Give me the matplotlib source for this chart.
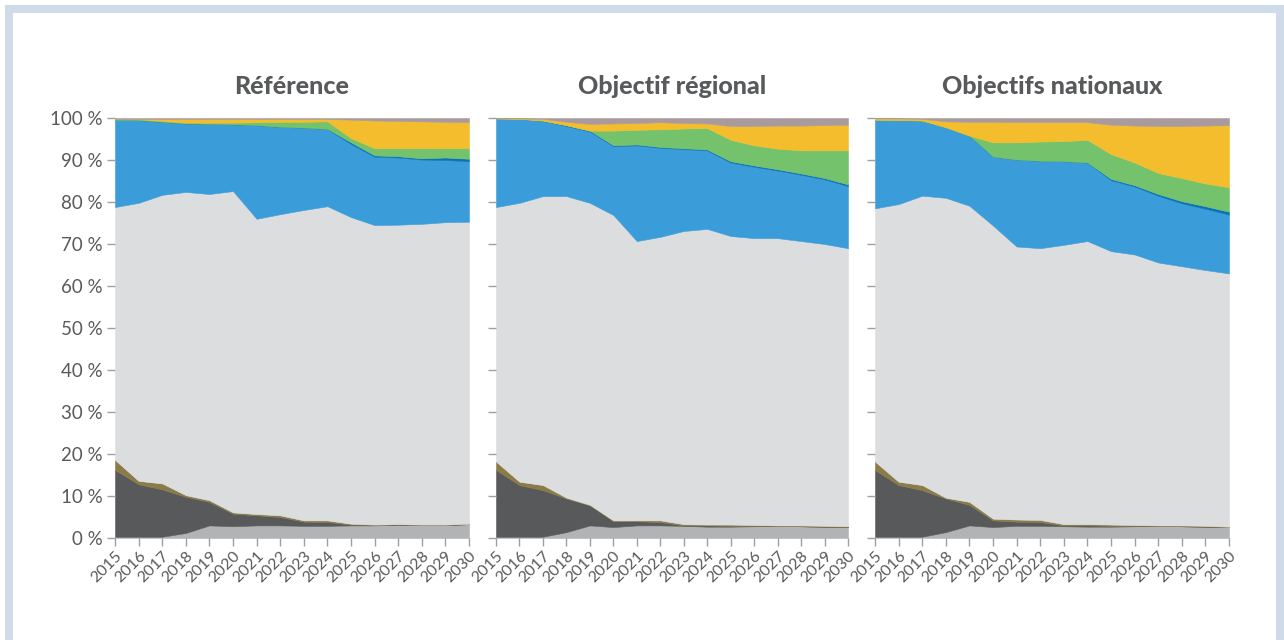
import matplotlib
matplotlib.use("Agg")
import matplotlib.pyplot as plt
from matplotlib.patches import Rectangle

years = list(range(2015, 2031))
titles = ["Référence", "Objectif régional", "Objectifs nationaux"]
y_ticks = [0, 10, 20, 30, 40, 50, 60, 70, 80, 90, 100]
y_tick_labels = [f"{v} %" for v in y_ticks]

# --- Référence (shares in %) ---
ref_gris_bas   = [0.3,0.3,0.3,1.2,3.0,2.8,3.0,3.0,2.9,2.9,3.0,3.0,3.2,3.1,3.1,3.3]
ref_gris_fonce = [15.9,12.5,11.3,8.6,5.6,3.0,2.4,2.0,1.0,0.9,0.2,0.1,0.0,0.0,0.0,0.0]
ref_brun       = [2.4,0.8,1.4,0.4,0.4,0.3,0.3,0.4,0.3,0.4,0.2,0.1,0.1,0.1,0.1,0.1]
ref_gris_clair = [60.2,66.2,68.7,72.2,72.9,76.5,70.3,71.7,73.9,74.8,73.0,71.3,71.3,71.6,72.0,71.9]
ref_bleu       = [20.7,19.7,17.4,16.3,16.7,15.9,22.3,20.8,19.6,18.4,17.4,16.3,16.0,15.3,14.8,14.4]
ref_bleu_fonce = [0,0,0,0,0,0,0,0,0,0,0.4,0.3,0.3,0.3,0.6,0.6]
ref_vert       = [0.3,0.2,0.2,0.2,0.3,0.4,0.7,1.2,1.4,1.8,1.0,1.7,1.9,2.4,2.2,2.5]
ref_jaune      = [0.0,0.1,0.5,0.9,0.9,0.9,0.8,0.7,0.7,0.6,4.4,6.6,6.5,6.4,6.3,6.2]
ref_mauve      = [0.2,0.2,0.2,0.2,0.2,0.2,0.2,0.2,0.2,0.2,0.4,0.6,0.7,0.8,0.9,1.0]

# --- Objectif régional ---
reg_gris_bas   = [0.3,0.3,0.3,1.4,3.0,2.6,3.0,3.0,2.9,2.7,2.7,2.8,2.9,2.8,2.7,2.6]
reg_gris_fonce = [15.9,12.3,11.1,8.0,4.8,1.4,1.0,0.8,0.1,0.3,0.2,0.1,0.0,0.0,0.0,0.0]
reg_brun       = [2.0,0.8,1.2,0.2,0.1,0.2,0.2,0.4,0.3,0.2,0.3,0.2,0.1,0.2,0.2,0.2]
reg_gris_clair = [60.6,66.4,68.8,71.8,71.9,72.7,66.5,67.5,69.8,70.4,68.7,68.3,68.4,67.7,67.1,66.2]
reg_bleu       = [21.1,20.0,18.0,16.7,17.0,16.4,22.8,21.2,19.5,18.7,17.5,17.0,16.1,15.8,15.4,14.8]
reg_bleu_fonce = [0,0,0,0.2,0.2,0.2,0.2,0.2,0.2,0.2,0.3,0.3,0.3,0.3,0.3,0.4]
reg_vert       = [0,0,0,0,0,3.5,3.5,4.2,4.7,5.1,5.1,4.8,4.9,5.5,6.6,8.1]
reg_jaune      = [0,0.1,0.4,0.8,1.6,1.7,1.6,1.7,1.3,1.1,3.3,4.6,5.5,5.9,6.0,6.1]
reg_mauve      = [0.1,0.1,0.2,0.9,1.4,1.3,1.2,1.0,1.2,1.3,1.9,1.9,1.8,1.8,1.7,1.6]

# --- Objectifs nationaux ---
nat_gris_bas   = [0.3,0.3,0.3,1.4,3.0,2.6,2.9,2.9,2.8,2.7,2.7,2.8,2.9,2.8,2.7,2.6]
nat_gris_fonce = [15.9,12.3,11.1,8.0,4.9,1.6,1.0,0.9,0.2,0.3,0.2,0.1,0.0,0.0,0.0,0.0]
nat_brun       = [2.0,0.8,1.2,0.2,0.7,0.4,0.5,0.5,0.3,0.3,0.3,0.2,0.1,0.2,0.2,0.1]
nat_gris_clair = [60.3,66.1,68.9,71.4,70.5,69.8,65.0,64.7,66.5,67.4,65.1,64.4,62.6,61.7,60.9,60.3]
nat_bleu       = [21.1,20.0,17.9,16.8,16.7,16.4,20.7,20.8,19.9,18.7,16.9,16.2,15.9,15.0,14.6,14.0]
nat_bleu_fonce = [0,0,0,0,0,0,0,0,0,0,0.3,0.3,0.4,0.5,0.6,0.7]
nat_vert       = [0,0,0,0,0,3.4,4.1,4.6,4.8,5.4,5.9,5.4,5.0,5.5,5.4,5.8]
nat_jaune      = [0.3,0.4,0.4,1.4,3.3,4.9,4.8,4.6,4.5,4.2,7.0,8.8,11.2,12.4,13.8,14.8]
nat_mauve      = [0.1,0.1,0.2,0.8,0.9,0.9,1.0,1.0,1.0,1.0,1.6,1.8,1.9,1.9,1.8,1.7]

colors = ["#b1b3b5", "#58595b", "#8b7b47", "#dcdddf", "#3a9dd9",
          "#0b72b5", "#74c26c", "#f3bd2d", "#a99a9d"]

panels = [
    [ref_gris_bas, ref_gris_fonce, ref_brun, ref_gris_clair, ref_bleu,
     ref_bleu_fonce, ref_vert, ref_jaune, ref_mauve],
    [reg_gris_bas, reg_gris_fonce, reg_brun, reg_gris_clair, reg_bleu,
     reg_bleu_fonce, reg_vert, reg_jaune, reg_mauve],
    [nat_gris_bas, nat_gris_fonce, nat_brun, nat_gris_clair, nat_bleu,
     nat_bleu_fonce, nat_vert, nat_jaune, nat_mauve],
]

W, H = 1284, 640
fig = plt.figure(figsize=(W / 100, H / 100), dpi=100)
fig.patch.set_facecolor("white")

text_col = "#58595b"
tick_col = "#9d9fa2"

lefts = [115, 496, 875]
widths = [354, 352, 354]
top_px, bot_px = 118, 538

for i, (series, title) in enumerate(zip(panels, titles)):
    ax = fig.add_axes([lefts[i] / W, (H - bot_px) / H, widths[i] / W, (bot_px - top_px) / H])
    polys = ax.stackplot(years, *series, colors=colors, linewidth=0)
    for p, c in zip(polys, colors):
        p.set_edgecolor(c)
        p.set_linewidth(0.4)
    ax.set_xlim(2015, 2030)
    ax.set_ylim(0, 100)
    for s in ax.spines.values():
        s.set_visible(False)
    ax.set_yticks(y_ticks)
    ax.set_xticks(years)
    ax.tick_params(axis="both", colors=tick_col, length=6, width=1)
    ax.tick_params(axis="y", pad=3)
    if i == 0:
        ax.set_yticklabels(y_tick_labels, fontsize=13.5, color=text_col, fontfamily="Lato")
    else:
        ax.set_yticklabels([])
    ax.set_xticklabels([str(y) for y in years], rotation=45, ha="right",
                       rotation_mode="anchor", fontsize=11.5, color=text_col,
                       fontfamily="Lato")
    ax.tick_params(axis="x", pad=2)
    ax.set_title(title, fontsize=18, fontweight="black", color=text_col,
                 fontfamily="Lato", pad=17)

# outer frame
fig.patches.append(Rectangle((9 / W, -0.05), (1280 - 9) / W, (H - 9) / H + 0.05,
                             transform=fig.transFigure, fill=False,
                             edgecolor="#cfdbe9", linewidth=5.8))

fig.savefig("out.png", dpi=100)
